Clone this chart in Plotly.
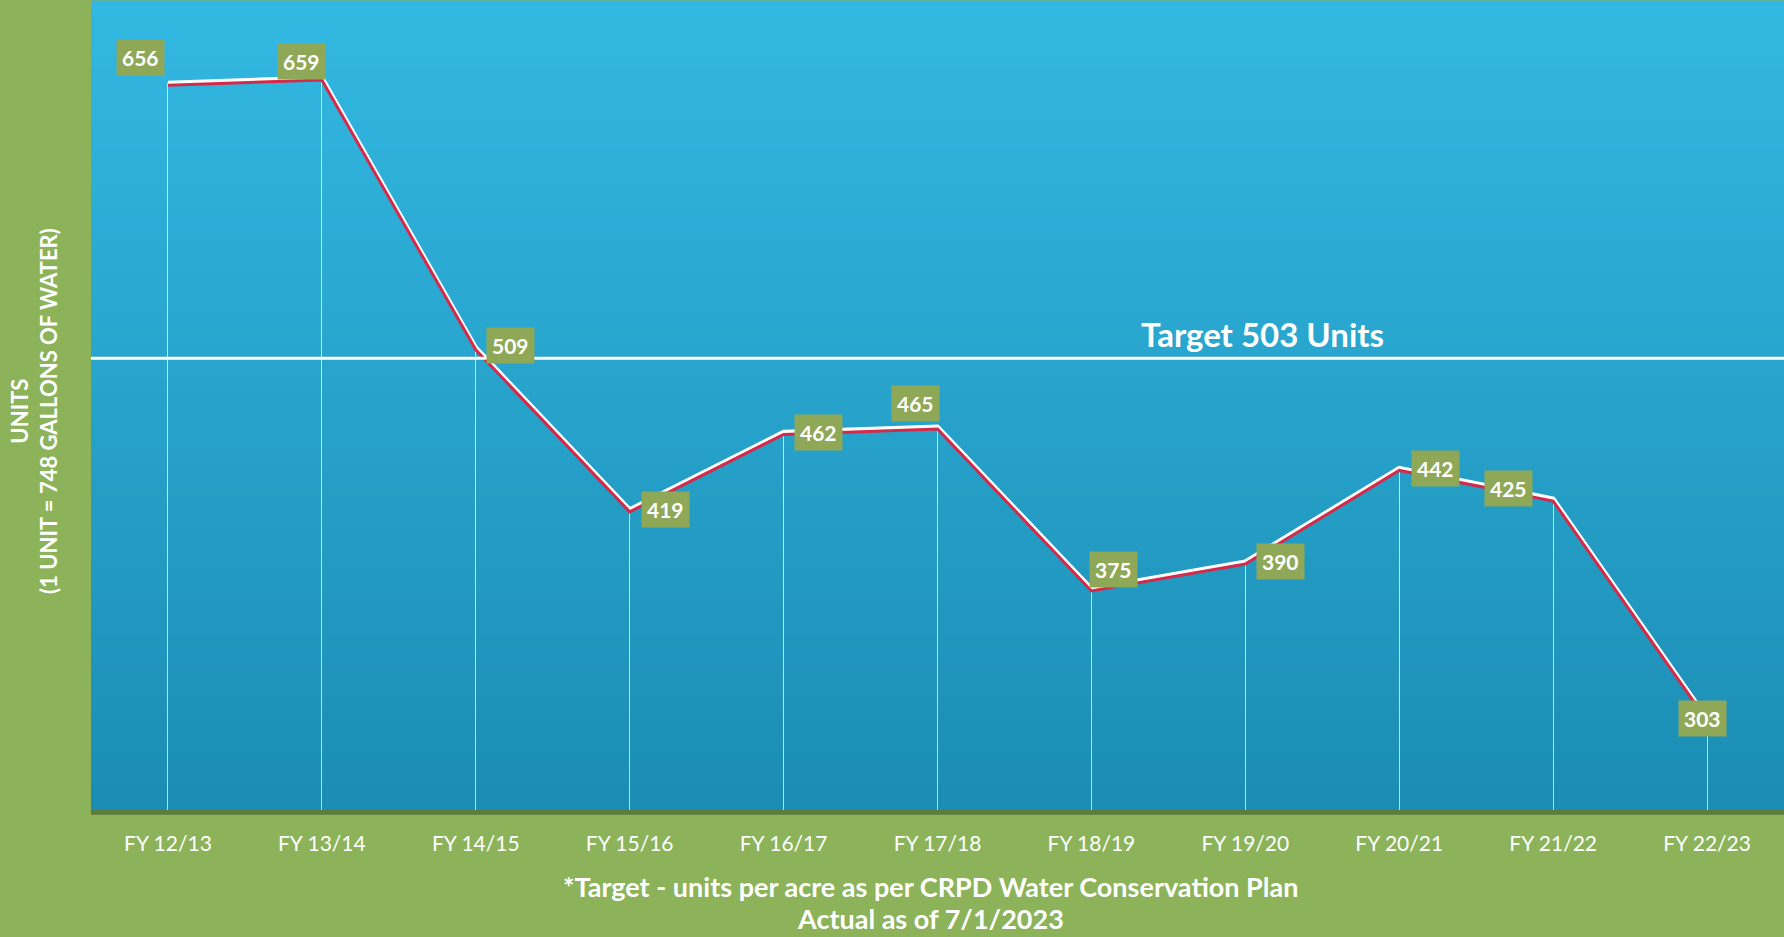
"""Water use per acre vs. target, FY 12/13 - FY 22/23."""

import plotly.graph_objects as go

# data
years = ["FY 12/13", "FY 13/14", "FY 14/15", "FY 15/16", "FY 16/17", "FY 17/18",
         "FY 18/19", "FY 19/20", "FY 20/21", "FY 21/22", "FY 22/23"]
units = [656, 659, 509, 419, 462, 465, 375, 390, 442, 425, 303]
target = 503

# label box offsets (px) relative to each point
label_dx = [-27, -20, 35, 36, 35, -22, 22, 35, 36, -45, -5]
label_dy = [25, 16, 2, 0, 0, 23, 19, 0, 0, 10, 0]

GREEN_BG = "#8cb35a"
LABEL_BG = "#8fa858"
Y_RANGE = [252, 701]
FONT = "Lato"

fig = go.Figure()

# thin drop lines from each point to the floor
fig.add_trace(go.Bar(x=years, y=units, width=0.007,
                     marker=dict(color="rgba(255,255,255,0.7)", line=dict(width=0)),
                     hoverinfo="skip", showlegend=False))

# red shadow line, a couple of px under the white one (via offset overlay axis)
fig.add_trace(go.Scatter(x=years, y=units, mode="lines", yaxis="y2",
                         line=dict(color="#d42a4a", width=3),
                         hoverinfo="skip", showlegend=False))
fig.add_trace(go.Scatter(x=years, y=units, mode="lines",
                         line=dict(color="white", width=4.5),
                         showlegend=False))

# gradient plot background from stacked bands
top, bot = (50, 184, 226), (28, 141, 180)
n = 60
shapes = []
for i in range(n):
    t = i / (n - 1)
    c = tuple(round(bot[k] + (top[k] - bot[k]) * t) for k in range(3))
    shapes.append(dict(type="rect", xref="x domain", yref="y domain",
                       x0=0, x1=1, y0=i / n, y1=(i + 1) / n + 0.002,
                       fillcolor="rgb(%d,%d,%d)" % c, line=dict(width=0), layer="below"))
# shadow under the plot area
shapes.append(dict(type="rect", xref="x domain", yref="y domain", x0=0, x1=1,
                   y0=-0.006, y1=0, fillcolor="rgba(50,70,30,0.5)",
                   line=dict(width=0), layer="below"))
# target line
shapes.append(dict(type="line", xref="x domain", yref="y", x0=0, x1=1,
                   y0=target, y1=target, line=dict(color="white", width=3),
                   layer="above"))

annotations = []
for yr, v, dx, dy in zip(years, units, label_dx, label_dy):
    annotations.append(dict(x=yr, y=v, text=f"<b>{v}</b>", showarrow=False,
                            xshift=dx, yshift=dy, bgcolor=LABEL_BG, borderpad=5,
                            font=dict(family=FONT, size=21, color="white")))

annotations.append(dict(xref="paper", x=0.692, xanchor="center", y=target,
                        yanchor="bottom", yshift=2,
                        text="<b>Target 503 Units</b>", showarrow=False,
                        font=dict(family=FONT, size=33, color="white")))
annotations.append(dict(xref="paper", yref="paper", x=0, y=0.5, xanchor="center",
                        yanchor="middle", xshift=-57, yshift=-5,
                        text="<b>UNITS<br>(1 UNIT = 748 GALLONS OF WATER)</b>",
                        textangle=-90, showarrow=False,
                        font=dict(family=FONT, size=22, color="white")))
for txt, dy in [("*Target - units per acre as per CRPD Water Conservation Plan", -76),
                ("Actual as of 7/1/2023", -108)]:
    annotations.append(dict(xref="paper", yref="paper", x=0.4956, y=0, xanchor="center",
                            yanchor="middle", yshift=dy, text=f"<b>{txt}</b>",
                            showarrow=False,
                            font=dict(family=FONT, size=27, color="white")))

shift = 1.3  # data units, ~2px
fig.update_layout(
    width=1784, height=937,
    margin=dict(l=91, r=0, t=2, b=127),
    paper_bgcolor=GREEN_BG,
    plot_bgcolor="#2aa6d0",
    bargap=0,
    shapes=shapes,
    annotations=annotations,
    xaxis=dict(type="category", range=[-0.5, 10.5], showgrid=False, zeroline=False,
               showline=False, ticks="", ticklabelstandoff=19,
               tickfont=dict(family=FONT, size=21, color="white")),
    yaxis=dict(range=Y_RANGE, showgrid=False, zeroline=False, showticklabels=False,
               ticks=""),
    yaxis2=dict(range=[Y_RANGE[0] + shift, Y_RANGE[1] + shift], overlaying="y",
                visible=False),
)

fig.write_html("out.html", config={"displayModeBar": False},
               post_script="document.body.style.margin='0';")
